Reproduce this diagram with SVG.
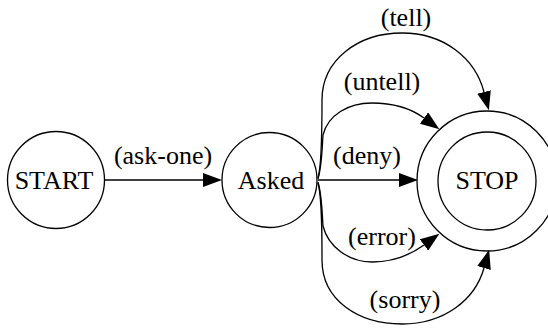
<svg xmlns="http://www.w3.org/2000/svg" width="548" height="329" viewBox="0 0 548 329">
<style>
.node{fill:none;stroke:#000;stroke-width:1.3}
.edge{fill:none;stroke:#000;stroke-width:1.3}
.lbl{font-family:'Liberation Serif','DejaVu Serif',serif;font-size:26px;fill:#000;text-anchor:middle}
</style>
<defs>
<marker id="arr" viewBox="0 0 19 14" refX="0" refY="7" markerWidth="19" markerHeight="14" markerUnits="userSpaceOnUse" orient="auto">
<path d="M0,0 L19,7 L0,14 z" fill="#000"/>
</marker>
</defs>
<rect width="548" height="329" fill="#fff"/>
<g id="edges">
<g id="e-askone"><path class="edge" d="M105,180 L203,180" marker-end="url(#arr)"/><text class="lbl" x="163" y="164">(ask-one)</text></g>
<g id="e-deny"><path class="edge" d="M318,180 L399,180" marker-end="url(#arr)"/><text class="lbl" x="367" y="164">(deny)</text></g>
<g id="e-tell"><path class="edge" d="M318,178 C322,165 322,130 322,100 C322,60 358,33 402,33 C444,33 475,58 484,92" marker-end="url(#arr)"/><text class="lbl" x="406" y="26">(tell)</text></g>
<g id="e-untell"><path class="edge" d="M318,179 C322,165 322,150 323,135 C328,115 348,103 372,103 C395,103 413,110 424,118" marker-end="url(#arr)"/><text class="lbl" x="382" y="90">(untell)</text></g>
<g id="e-error"><path class="edge" d="M318,182 C322,196 322,211 323,226 C328,246 348,262 372,262 C395,262 413,253 424,245" marker-end="url(#arr)"/><text class="lbl" x="382" y="245">(error)</text></g>
<g id="e-sorry"><path class="edge" d="M318,183 C322,196 322,230 322,260 C322,300 358,324 402,324 C444,324 475,300 484,268" marker-end="url(#arr)"/><text class="lbl" x="405" y="308">(sorry)</text></g>
</g>
<g id="START"><circle class="node" cx="56" cy="180" r="48.5"/><text class="lbl" x="54" y="189">START</text></g>
<g id="Asked"><circle class="node" cx="269.5" cy="180" r="47.5"/><text class="lbl" x="271" y="189">Asked</text></g>
<g id="STOP"><circle class="node" cx="487" cy="181" r="49"/><circle class="node" cx="487" cy="181" r="70"/><text class="lbl" x="487" y="189">STOP</text></g>
</svg>
